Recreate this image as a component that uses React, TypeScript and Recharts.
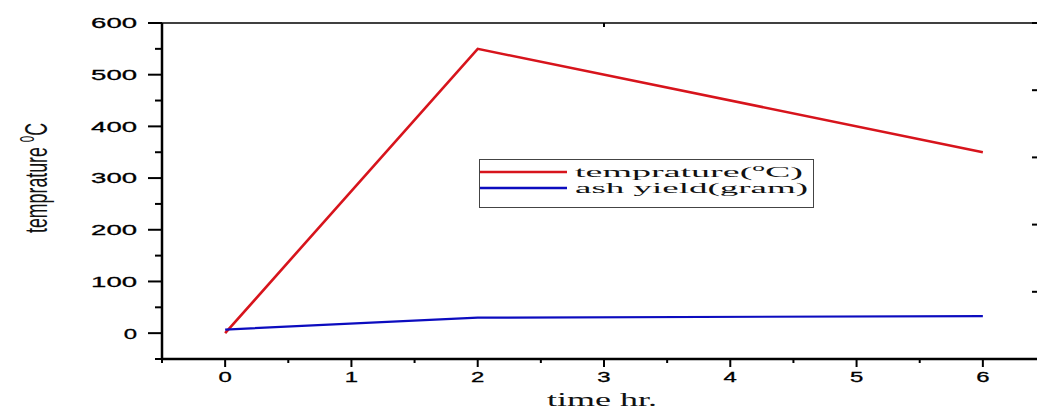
import React from 'react';
import { LineChart, Line, XAxis, YAxis, Customized } from 'recharts';

// values
const hours = [0, 2, 6];
const temperature = [0, 550, 350];
const ashYield = [7, 30, 33];

const yTicks = [-50, 0, 50, 100, 150, 200, 250, 300, 350, 400, 450, 500, 550, 600];
const xTicks = [-0.5, 0, 0.5, 1, 1.5, 2, 2.5, 3, 3.5, 4, 4.5, 5, 5.5, 6, 6.5];
const frameTicks = [0, 1, 2, 3, 4, 5, 6, 7, 8, 9, 10];

const seriesColors = ['#d7141c', '#0c0cbf'];
// label pieces: text, superscript, rest
const seriesLabels = [
  ['temprature(', 'o', 'C)'],
  ['ash yield(gram)', '', ''],
];

const chartData = hours.map((h, i) => ({
  hour: h,
  temp: temperature[i],
  ash: ashYield[i],
}));

const digitFont = '"Liberation Sans", Arial, sans-serif';
const serifFont = '"Liberation Serif", "Times New Roman", serif';

const digitLen = (s: string) => s.length * 16.3 - 3;

const LeftTick = (props: any) => {
  const { x, y, payload } = props;
  const v = payload.value;
  const major = v % 100 === 0;
  const label = String(v);
  return (
    <g>
      <line x1={x - (major ? 14 : 7)} x2={x} y1={y} y2={y} stroke="#000" strokeWidth={2} />
      {major && (
        <text
          x={x - 25}
          y={y}
          dy="0.36em"
          textAnchor="end"
          fontFamily={digitFont}
          fontSize={15}
          fill="#000"
          stroke="#000"
          strokeWidth={0.3}
          textLength={digitLen(label)}
          lengthAdjust="spacingAndGlyphs"
        >
          {label}
        </text>
      )}
    </g>
  );
};

const BottomTick = (props: any) => {
  const { x, y, payload } = props;
  const v = payload.value;
  const major = Number.isInteger(v);
  const label = String(v);
  return (
    <g>
      <line x1={x} x2={x} y1={y} y2={y + (major ? 8 : 4)} stroke="#000" strokeWidth={2} />
      {major && (
        <text
          x={x}
          y={y + 18}
          dy="0.36em"
          textAnchor="middle"
          fontFamily={digitFont}
          fontSize={15}
          fill="#000"
          stroke="#000"
          strokeWidth={0.3}
          textLength={digitLen(label)}
          lengthAdjust="spacingAndGlyphs"
        >
          {label}
        </text>
      )}
    </g>
  );
};

const TopTick = (props: any) => {
  const { x, y, payload } = props;
  const major = payload.value % 2 === 0;
  return <line x1={x} x2={x} y1={y} y2={y + (major ? 7 : 4)} stroke="#000" strokeWidth={2} />;
};

const RightTick = (props: any) => {
  const { x, y, payload } = props;
  const major = payload.value % 2 === 0;
  return <line x1={x - (major ? 14 : 7)} x2={x} y1={y} y2={y} stroke="#000" strokeWidth={2} />;
};

const Labels = () => (
  <g>
    <text
      transform="translate(36,178) scale(1.9,1) rotate(-90)"
      textAnchor="middle"
      dy="0.35em"
      fontFamily={digitFont}
      fontSize={17}
      fill="#111"
      textLength={110}
      lengthAdjust="spacingAndGlyphs"
    >
      temprature <tspan dy={-7} fontSize={11}>0</tspan>
      <tspan dy={7}>C</tspan>
    </text>
    <text
      x={602}
      y={406}
      textAnchor="middle"
      fontFamily={serifFont}
      fontSize={18}
      fill="#111"
      textLength={110}
      lengthAdjust="spacingAndGlyphs"
    >
      time hr.
    </text>
    <rect x={479.5} y={159.5} width={334} height={48} fill="#fff" stroke="#444" strokeWidth={1} />
    {seriesLabels.map((parts, i) => {
      const ly = 172 + i * 16;
      return (
        <g key={i}>
          <line x1={480} x2={567} y1={ly} y2={ly} stroke={seriesColors[i]} strokeWidth={2.5} />
          <text
            x={575}
            y={ly + 5}
            fontFamily={serifFont}
            fontSize={15}
            fill="#111"
            textLength={i === 0 ? 228 : 233}
            lengthAdjust="spacingAndGlyphs"
          >
            {parts[0]}
            {parts[1] && (
              <tspan dy={-6} fontSize={10}>
                {parts[1]}
              </tspan>
            )}
            {parts[2] && <tspan dy={6}>{parts[2]}</tspan>}
          </text>
        </g>
      );
    })}
  </g>
);

export default function App() {
  return (
    <div
      style={{
        position: 'absolute',
        left: 0,
        top: 0,
        width: 1037,
        height: 411,
        overflow: 'hidden',
        background: '#fff',
      }}
    >
      <LineChart
        width={1060}
        height={411}
        data={chartData}
        margin={{ top: 22, right: 4, bottom: 0, left: 0 }}
      >
        <XAxis
          xAxisId="bottom"
          dataKey="hour"
          type="number"
          domain={[-0.5, 6.5]}
          ticks={xTicks}
          interval={0}
          height={52}
          tickSize={0}
          tickMargin={0}
          tick={BottomTick}
          axisLine={{ stroke: '#000', strokeWidth: 2.5 }}
          allowDataOverflow
        />
        <XAxis
          xAxisId="top"
          orientation="top"
          type="number"
          domain={[0, 10]}
          ticks={frameTicks}
          interval={0}
          height={1}
          tickSize={0}
          tickMargin={0}
          tick={TopTick}
          axisLine={{ stroke: '#000', strokeWidth: 1.6 }}
          allowDataOverflow
        />
        <YAxis
          yAxisId="left"
          type="number"
          domain={[-50, 600]}
          ticks={yTicks}
          interval={0}
          width={162}
          tickSize={0}
          tickMargin={0}
          tick={LeftTick}
          axisLine={{ stroke: '#000', strokeWidth: 2.5 }}
          allowDataOverflow
        />
        <YAxis
          yAxisId="right"
          orientation="right"
          type="number"
          domain={[0, 10]}
          ticks={frameTicks}
          interval={0}
          width={10}
          tickSize={0}
          tickMargin={0}
          tick={RightTick}
          axisLine={{ stroke: '#000', strokeWidth: 1.6 }}
          allowDataOverflow
        />
        <Line
          xAxisId="bottom"
          yAxisId="left"
          dataKey="temp"
          stroke={seriesColors[0]}
          strokeWidth={2.6}
          dot={false}
          isAnimationActive={false}
        />
        <Line
          xAxisId="bottom"
          yAxisId="left"
          dataKey="ash"
          stroke={seriesColors[1]}
          strokeWidth={2.2}
          dot={false}
          isAnimationActive={false}
        />
        <Customized component={Labels} />
      </LineChart>
    </div>
  );
}
